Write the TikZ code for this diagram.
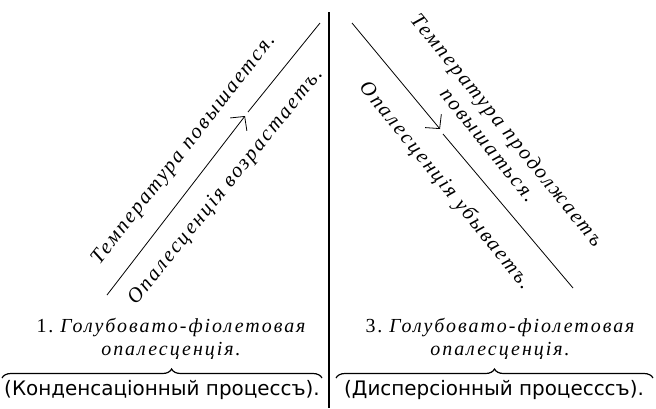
\documentclass[tikz,border=0pt]{standalone}
\usepackage{fontspec}
\setmainfont{Liberation Serif}
\newfontfamily\oldfont{Liberation Serif}[LetterSpace=10]
\newfontfamily\procfont{DejaVu Sans}
\usetikzlibrary{arrows.meta, decorations.pathreplacing}

\begin{document}
\begin{tikzpicture}[x=1bp, y=-1bp,
    slant/.style={font=\oldfont\itshape\fontsize{21}{24}\selectfont, inner sep=0pt, align=center},
    colour/.style={font=\oldfont\fontsize{20}{23}\selectfont, inner sep=0pt, align=center},
    proc/.style={font=\procfont\fontsize{20}{23}\selectfont, inner sep=0pt},
    course/.style={line width=0.8bp},
    turn/.style={line width=0.8bp, -{Straight Barb[length=10bp, width=21bp, line width=0.8bp]}},
    bracket/.style={line width=1.2bp, decorate, decoration={brace, amplitude=9bp, aspect=#1}},
]
\useasboundingbox (0,0) rectangle (656,408);

% dividing line
\coordinate (top) at (329,12);
\coordinate (bot) at (329,408);
\draw[line width=1.6bp] (top) -- (bot);

% left: condensation
\coordinate (l0) at (107,295);
\coordinate (l1) at (245,116);
\coordinate (l2) at (248,112);
\coordinate (l3) at (320,23);
\draw[turn] (l0) -- (l1);
\draw[course] (l2) -- (l3);
\node[slant, rotate=52] (temp1) at (184,150) {Температура повышается.};
\node[slant, rotate=51] (opal1) at (226,187) {Опалесценція возрастаетъ.};

% right: dispersion
\coordinate (r0) at (352,23);
\coordinate (r1) at (440,129);
\coordinate (r2) at (443,134);
\coordinate (r3) at (573,288);
\draw[turn] (r0) -- (r1);
\draw[course] (r2) -- (r3);
\node[slant, rotate=-51] (temp2) at (498,137) {Температура продолжаетъ\\повышаться.};
\node[slant, rotate=-51] (opal2) at (445,186) {Опалесценція убываетъ.};

% colours
\node[colour] (col1) at (172,339) {1.~\textit{Голубовато-фіолетовая}\\\textit{опалесценція.}};
\node[colour] (col3) at (501,339) {3.~\textit{Голубовато-фіолетовая}\\\textit{опалесценція.}};

% processes
\coordinate (b1l) at (2,378);
\coordinate (b1r) at (322,378);
\coordinate (b3l) at (336,378);
\coordinate (b3r) at (653,378);
\draw[bracket=0.53] (b1l) -- (b1r);
\draw[bracket=0.5] (b3l) -- (b3r);
\node[proc] (proc1) at (162,390) {(Конденсаціонный процессъ).};
\node[proc] (proc3) at (494,390) {(Дисперсіонный процесссъ).};
\end{tikzpicture}
\end{document}
